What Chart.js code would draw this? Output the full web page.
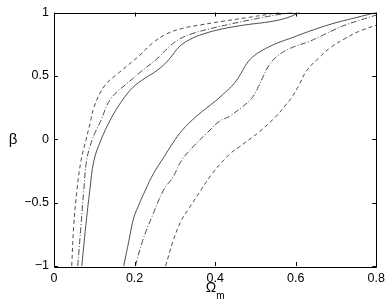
<!DOCTYPE html>
<html>
<head>
<meta charset="utf-8">
<script src="https://cdn.jsdelivr.net/npm/chart.js@4"></script>
<style>
  html, body { margin: 0; padding: 0; background: #fff; }
  canvas { display: block; }
</style>
</head>
<body>
<canvas id="chart" width="390" height="301"></canvas>
<script>
// contour edges, [Omega_m, beta] pairs
const leftDashed = [[0.044,-1],[0.049,-0.68],[0.057,-0.40],[0.067,-0.17],[0.079,-0.01],[0.091,0.145],[0.100,0.26],[0.125,0.42],[0.163,0.53],[0.212,0.66],[0.245,0.76],[0.279,0.83],[0.319,0.875],[0.36,0.90],[0.417,0.93],[0.48,0.96],[0.53,0.985],[0.558,1.0]];
const leftDashDot = [[0.059,-1],[0.067,-0.68],[0.074,-0.40],[0.081,-0.17],[0.094,-0.01],[0.116,0.145],[0.141,0.32],[0.185,0.45],[0.230,0.57],[0.254,0.63],[0.286,0.73],[0.311,0.79],[0.345,0.835],[0.385,0.87],[0.44,0.91],[0.50,0.95],[0.55,0.98],[0.59,1.0]];
const leftSolid = [[0.069,-1],[0.079,-0.68],[0.089,-0.40],[0.099,-0.17],[0.116,-0.01],[0.141,0.16],[0.168,0.30],[0.196,0.41],[0.225,0.48],[0.250,0.53],[0.270,0.58],[0.288,0.64],[0.311,0.73],[0.336,0.785],[0.37,0.83],[0.417,0.87],[0.47,0.90],[0.541,0.93],[0.58,0.96],[0.61,1.0]];
const rightSolid = [[0.173,-1],[0.186,-0.8],[0.198,-0.62],[0.213,-0.5],[0.227,-0.40],[0.247,-0.27],[0.272,-0.145],[0.295,-0.03],[0.318,0.07],[0.353,0.18],[0.40,0.30],[0.435,0.40],[0.452,0.46],[0.466,0.53],[0.479,0.60],[0.497,0.66],[0.525,0.715],[0.555,0.76],[0.59,0.80],[0.632,0.85],[0.689,0.91],[0.75,0.96],[0.8,1.0]];
const rightDashDot = [[0.202,-1],[0.22,-0.8],[0.242,-0.62],[0.272,-0.40],[0.295,-0.30],[0.316,-0.17],[0.345,-0.06],[0.38,0.05],[0.41,0.14],[0.435,0.18],[0.465,0.25],[0.49,0.32],[0.505,0.40],[0.52,0.50],[0.533,0.58],[0.552,0.65],[0.575,0.70],[0.60,0.735],[0.632,0.77],[0.66,0.81],[0.714,0.89],[0.76,0.94],[0.8,0.98]];
const rightDashed = [[0.277,-1],[0.296,-0.8],[0.316,-0.64],[0.336,-0.54],[0.365,-0.40],[0.393,-0.27],[0.435,-0.12],[0.46,-0.06],[0.51,0.06],[0.551,0.18],[0.575,0.27],[0.59,0.33],[0.607,0.42],[0.627,0.54],[0.66,0.65],[0.689,0.73],[0.72,0.79],[0.756,0.85],[0.8,0.90]];

const xTicks = [0, 0.2, 0.4, 0.6, 0.8];
const yTicks = [-1, -0.5, 0, 0.5, 1];

const DASHED = [4, 3];
const DASHDOT = [6, 2, 1, 2];
const FONT = "'Liberation Sans', Arial, Helvetica, sans-serif";

function curve(points, dash) {
  return {
    data: points.map(p => ({ x: p[0], y: p[1] })),
    borderColor: '#3a3a3a',
    borderWidth: 0.9,
    borderDash: dash,
    pointRadius: 0,
    fill: false,
    tension: 0.4
  };
}

function fmt(v) {
  const s = String(Math.round(v * 100) / 100);
  return s.replace('-', '\u2212');
}

// box around the plot with matlab style inward ticks, plus axis labels
const boxPlugin = {
  id: 'box',
  afterDraw(chart) {
    const ctx = chart.ctx;
    const a = chart.chartArea;
    const xs = chart.scales.x, ys = chart.scales.y;
    ctx.save();
    ctx.strokeStyle = '#000';
    ctx.lineWidth = 1;
    ctx.beginPath();
    ctx.rect(Math.round(a.left) + 0.5, Math.round(a.top) + 0.5,
             Math.round(a.right - a.left), Math.round(a.bottom - a.top));
    xTicks.forEach(v => {
      const px = Math.round(xs.getPixelForValue(v)) + 0.5;
      ctx.moveTo(px, a.bottom); ctx.lineTo(px, a.bottom - 4);
      ctx.moveTo(px, a.top); ctx.lineTo(px, a.top + 4);
    });
    yTicks.forEach(v => {
      const py = Math.round(ys.getPixelForValue(v)) + 0.5;
      ctx.moveTo(a.left, py); ctx.lineTo(a.left + 4, py);
      ctx.moveTo(a.right, py); ctx.lineTo(a.right - 4, py);
    });
    ctx.stroke();

    ctx.fillStyle = '#000';
    ctx.textBaseline = 'alphabetic';
    // x label: Omega with subscript m
    const cx = (a.left + a.right) / 2;
    ctx.font = '14px ' + FONT;
    const wO = ctx.measureText('\u03A9').width;
    ctx.font = '10px ' + FONT;
    const wm = ctx.measureText('m').width;
    const x0 = cx - (wO + wm) / 2;
    ctx.font = '14px ' + FONT;
    ctx.textAlign = 'left';
    ctx.fillText('\u03A9', x0, 292);
    ctx.font = '10px ' + FONT;
    ctx.fillText('m', x0 + wO, 299);
    // y label
    ctx.font = '15px ' + FONT;
    ctx.textAlign = 'center';
    ctx.fillText('\u03B2', 13, (a.top + a.bottom) / 2 + 5);
    ctx.restore();
  }
};

new Chart(document.getElementById('chart'), {
  type: 'line',
  data: {
    datasets: [
      curve(leftDashed, DASHED),
      curve(leftDashDot, DASHDOT),
      curve(leftSolid, []),
      curve(rightSolid, []),
      curve(rightDashDot, DASHDOT),
      curve(rightDashed, DASHED)
    ]
  },
  options: {
    responsive: false,
    animation: false,
    layout: { padding: { top: 11, right: 12, left: 0, bottom: 0 } },
    plugins: { legend: { display: false }, tooltip: { enabled: false } },
    scales: {
      x: {
        type: 'linear', min: 0, max: 0.8,
        afterFit(s) { s.height = 35; },
        afterBuildTicks(s) { s.ticks = xTicks.map(v => ({ value: v })); },
        grid: { display: false, drawTicks: false },
        border: { display: false },
        ticks: { color: '#000', padding: 5, font: { family: FONT, size: 12.5 }, callback: fmt, maxRotation: 0 }
      },
      y: {
        type: 'linear', min: -1, max: 1,
        afterFit(s) { s.width = 54; },
        afterBuildTicks(s) { s.ticks = yTicks.map(v => ({ value: v })); },
        grid: { display: false, drawTicks: false },
        border: { display: false },
        ticks: { color: '#000', padding: 5, font: { family: FONT, size: 12.5 }, callback: fmt }
      }
    }
  },
  plugins: [boxPlugin]
});
</script>
</body>
</html>
